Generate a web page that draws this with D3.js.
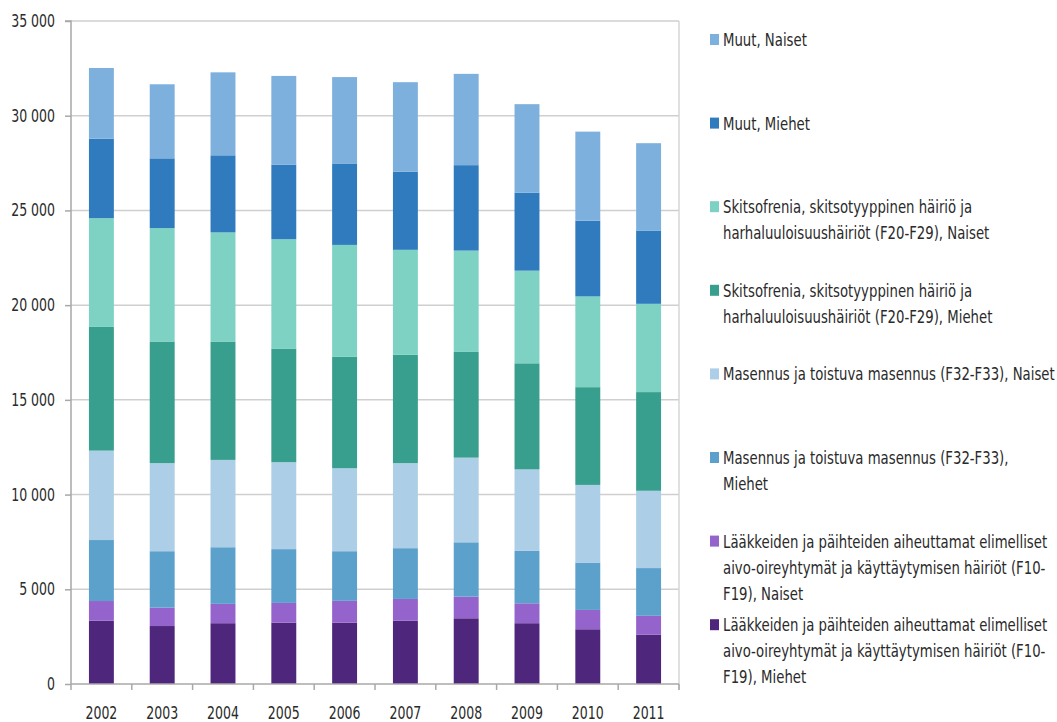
<!DOCTYPE html>
<html>
<head>
<meta charset="utf-8">
<script src="https://cdn.jsdelivr.net/npm/d3@7"></script>
<style>
  body { margin: 0; background: #fff; }
  text { font-family: "DejaVu Sans Condensed", "DejaVu Sans", sans-serif; fill: #2a2a2a; }
</style>
</head>
<body>
<script>
// years on the x axis
const years = ['2002', '2003', '2004', '2005', '2006', '2007', '2008', '2009', '2010', '2011']

// series values, bottom of the stack first
const f10Miehet = [3340, 3060, 3210, 3240, 3240, 3340, 3470, 3210, 2890, 2610]
const f10Naiset = [1040, 970, 1020, 1040, 1150, 1150, 1140, 1050, 1020, 990]
const masMiehet = [3220, 2980, 2990, 2840, 2620, 2680, 2870, 2780, 2500, 2520]
const masNaiset = [4720, 4650, 4610, 4590, 4380, 4490, 4470, 4290, 4100, 4080]
const skiMiehet = [6530, 6420, 6250, 6000, 5880, 5720, 5580, 5600, 5160, 5210]
const skiNaiset = [5740, 5990, 5760, 5770, 5910, 5540, 5350, 4890, 4790, 4660]
const muutMiehet = [4200, 3680, 4070, 3940, 4300, 4120, 4510, 4120, 4000, 3870]
const muutNaiset = [3730, 3910, 4380, 4680, 4560, 4730, 4820, 4670, 4700, 4610]

const yTicks = [0, 5000, 10000, 15000, 20000, 25000, 30000, 35000]

const seriesNames = [
  ['Lääkkeiden ja päihteiden aiheuttamat elimelliset', 'aivo-oireyhtymät ja käyttäytymisen häiriöt (F10-', 'F19), Miehet'],
  ['Lääkkeiden ja päihteiden aiheuttamat elimelliset', 'aivo-oireyhtymät ja käyttäytymisen häiriöt (F10-', 'F19), Naiset'],
  ['Masennus ja toistuva masennus (F32-F33),', 'Miehet'],
  ['Masennus ja toistuva masennus (F32-F33), Naiset'],
  ['Skitsofrenia, skitsotyyppinen häiriö ja', 'harhaluuloisuushäiriöt (F20-F29), Miehet'],
  ['Skitsofrenia, skitsotyyppinen häiriö ja', 'harhaluuloisuushäiriöt (F20-F29), Naiset'],
  ['Muut, Miehet'],
  ['Muut, Naiset']
]
const colors = ['#4e277c', '#9463cc', '#5ca0cc', '#accee6', '#389e8e', '#7dd2c4', '#2f7bbe', '#7eb0de']
const seriesValues = [f10Miehet, f10Naiset, masMiehet, masNaiset, skiMiehet, skiNaiset, muutMiehet, muutNaiset]

var w = 1057
var h = 722
var plotLeft = 71, plotRight = 679, plotTop = 21, plotBottom = 684
var sx = 0.82 // the reference font is narrow, squeeze text sideways

// rows for d3.stack
const rows = years.map(function (y, i) {
  const r = { year: y }
  seriesValues.forEach(function (s, k) { r[k] = s[i] })
  return r
})
const keys = seriesValues.map(function (s, k) { return k })
const stacked = d3.stack().keys(keys)(rows)

var xScale = d3.scaleBand()
  .domain(years)
  .range([plotLeft, plotRight])
  .paddingInner(0.59)
  .paddingOuter(0.295)

var yScale = d3.scaleLinear()
  .domain([0, 35000])
  .range([plotBottom, plotTop])

var svg = d3.select('body')
  .append('svg')
  .attr('width', w)
  .attr('height', h)

// gridlines
svg.append('g')
  .selectAll('line')
  .data(yTicks.slice(1))
  .enter()
  .append('line')
  .attr('x1', plotLeft)
  .attr('x2', plotRight)
  .attr('y1', function (d) { return yScale(d) })
  .attr('y2', function (d) { return yScale(d) })
  .attr('stroke', '#cfcfcf')
  .attr('stroke-width', 1.5)

// right border of the plot
svg.append('line')
  .attr('x1', plotRight).attr('x2', plotRight)
  .attr('y1', yScale(35000)).attr('y2', plotBottom + 6)
  .attr('stroke', '#d6d6d6')
  .attr('stroke-width', 1.5)

// bars
svg.append('g')
  .selectAll('g')
  .data(stacked)
  .enter()
  .append('g')
  .attr('fill', function (d, i) { return colors[i] })
  .selectAll('rect')
  .data(function (d) { return d })
  .enter()
  .append('rect')
  .attr('x', function (d) { return xScale(d.data.year) })
  .attr('width', xScale.bandwidth())
  .attr('y', function (d) { return yScale(d[1]) })
  .attr('height', function (d) { return yScale(d[0]) - yScale(d[1]) })

// y axis
const fmt = function (d) { return d3.format(',')(d).replace(',', ' ') }
const yAxis = d3.axisLeft(yScale)
  .tickValues(yTicks)
  .tickFormat(fmt)
  .tickSize(6)
  .tickPadding(10)

const gy = svg.append('g')
  .attr('transform', `translate(${plotLeft},0)`)
  .call(yAxis)
gy.select('.domain').attr('stroke', '#a8a8a8').attr('stroke-width', 1.5).attr('d', `M-6,${plotTop}H0V${plotBottom}`)
gy.selectAll('.tick line').attr('stroke', '#a8a8a8').attr('stroke-width', 1.5)
gy.selectAll('.tick text')
  .attr('font-size', 17)
  .attr('fill', '#2a2a2a')
  .attr('transform', function () { return `translate(${d3.select(this).attr('x')},0) scale(${sx},1)` })
  .attr('x', 0)

// x axis: ticks sit between the bands
const xAxis = svg.append('g')
xAxis.append('line')
  .attr('x1', plotLeft).attr('x2', plotRight)
  .attr('y1', plotBottom).attr('y2', plotBottom)
  .attr('stroke', '#a8a8a8').attr('stroke-width', 1.5)
xAxis.selectAll('line.tk')
  .data(years.concat(['end']))
  .enter()
  .append('line')
  .attr('class', 'tk')
  .attr('x1', function (d, i) { return plotLeft + i * xScale.step() })
  .attr('x2', function (d, i) { return plotLeft + i * xScale.step() })
  .attr('y1', plotBottom)
  .attr('y2', plotBottom + 6)
  .attr('stroke', '#a8a8a8').attr('stroke-width', 1.5)
xAxis.selectAll('text')
  .data(years)
  .enter()
  .append('text')
  .attr('transform', function (d) { return `translate(${xScale(d) + xScale.bandwidth() / 2},719) scale(${sx},1)` })
  .attr('text-anchor', 'middle')
  .attr('font-size', 17)
  .text(function (d) { return d })

// legend, top entry first
const legend = svg.append('g')
const order = keys.slice().reverse()
const entry = legend.selectAll('g')
  .data(order)
  .enter()
  .append('g')
  .attr('transform', function (k, i) { return `translate(710,${40 + i * 83.6})` })

entry.append('rect')
  .attr('x', 0).attr('y', -6)
  .attr('width', 9).attr('height', 11)
  .attr('fill', function (k) { return colors[k] })

entry.each(function (k) {
  const t = d3.select(this).append('text')
    .attr('transform', `translate(13,6) scale(${sx},1)`)
    .attr('font-size', 18)
  seriesNames[k].forEach(function (line, j) {
    t.append('tspan').attr('x', 0).attr('dy', j === 0 ? 0 : 26).text(line)
  })
})
</script>
</body>
</html>
